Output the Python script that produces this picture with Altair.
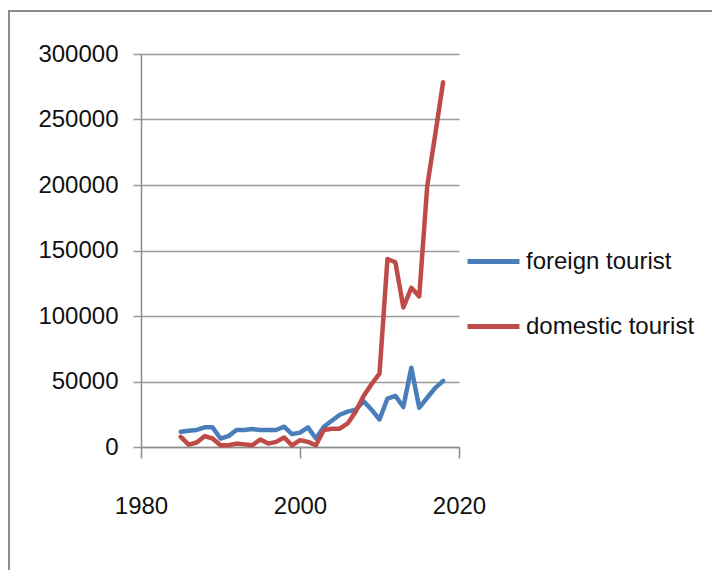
import altair as alt
import pandas as pd

years = list(range(1985, 2019))
foreign = [11700, 12400, 13000, 15000, 15000, 6500, 8300, 13000, 13000, 13700,
           13000, 13000, 13000, 15500, 9800, 11000, 15000, 6500, 15500, 20000,
           24600, 27000, 28500, 35000, 28500, 21000, 37000, 39000, 30500, 60500,
           30000, 37600, 45000, 50500]
domestic = [7800, 1800, 3400, 8300, 6500, 1300, 1300, 2600, 2000, 1300,
            5700, 2600, 3900, 7300, 1300, 5200, 3900, 1300, 13000, 14000,
            14000, 18000, 27000, 39000, 48000, 56000, 143500, 141000, 106500, 121500,
            115000, 199000, 238000, 278500]
series_names = ["foreign tourist", "domestic tourist"]
series_colors = ["#4A7EBB", "#BE4B48"]
x_ticks = [1980, 2000, 2020]
y_ticks = [0, 50000, 100000, 150000, 200000, 250000, 300000]

df = pd.DataFrame({
    "year": years * 2,
    "value": foreign + domestic,
    "series": [series_names[0]] * len(years) + [series_names[1]] * len(years),
})

FONT = "Liberation Sans, Arial, sans-serif"

lines = alt.Chart(df).mark_line(strokeWidth=4.5, strokeJoin="round", strokeCap="round").encode(
    x=alt.X("year:Q",
            scale=alt.Scale(domain=[1980, 2020], nice=False, zero=False),
            axis=alt.Axis(values=x_ticks, format="d", title=None, grid=False,
                          tickSize=11, labelPadding=36, labelFlush=False,
                          domainColor="#8c8c8c", tickColor="#8c8c8c",
                          domainWidth=1.5, tickWidth=1.5)),
    y=alt.Y("value:Q",
            scale=alt.Scale(domain=[0, 300000], nice=False),
            axis=alt.Axis(values=y_ticks, format="d", title=None, grid=True,
                          gridColor="#9a9a9a", gridWidth=1.5, tickSize=8,
                          labelPadding=15, domainColor="#8c8c8c",
                          tickColor="#9a9a9a", domainWidth=1.5, tickWidth=1.5)),
    color=alt.Color("series:N",
                    scale=alt.Scale(domain=series_names, range=series_colors),
                    sort=series_names,
                    legend=alt.Legend(title=None, orient="none", legendX=324, legendY=179,
                                      symbolType="stroke", symbolSize=2700,
                                      symbolStrokeWidth=5, labelFontSize=24,
                                      labelFont=FONT, labelColor="#111111",
                                      labelOffset=4, rowPadding=24, labelLimit=400)),
)

frame = alt.Chart(pd.DataFrame({"k": [0]})).mark_rect(
    fill="transparent", stroke="#8c8c8c", strokeWidth=2
).encode(
    x=alt.value(9 - 141), x2=alt.value(760),
    y=alt.value(11 - 54), y2=alt.value(600),
)

chart = alt.layer(frame, lines).properties(
    width=318, height=393,
    padding={"left": 141, "top": 54, "right": 253, "bottom": 123},
    autosize=alt.AutoSizeParams(type="none"),
    background="white",
).configure_view(stroke=None).configure_axis(
    labelFont=FONT, labelFontSize=24, labelColor="#111111"
)

chart.save("out.html", embed_options={"renderer": "svg", "actions": False})
